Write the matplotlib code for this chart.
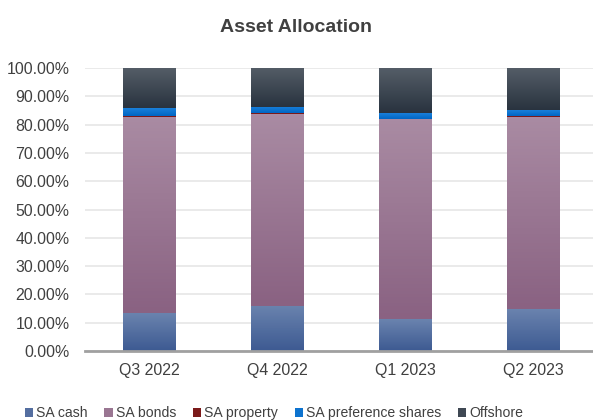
import numpy as np
import matplotlib
matplotlib.use('Agg')
import matplotlib.pyplot as plt
from matplotlib.colors import LinearSegmentedColormap
from matplotlib.ticker import FuncFormatter

plt.rcParams['font.family'] = ['Liberation Sans', 'DejaVu Sans']

quarters = ['Q3 2022', 'Q4 2022', 'Q1 2023', 'Q2 2023']
sa_cash = [13.4, 16.0, 11.3, 14.8]
sa_bonds = [69.4, 67.8, 70.7, 68.0]
sa_property = [0.3, 0.2, 0.0, 0.3]
sa_pref = [2.8, 2.2, 2.1, 2.1]
offshore = [14.1, 13.8, 15.9, 14.8]

series = [
    ('SA cash', sa_cash, '#6a83ae', '#3d5a92'),
    ('SA bonds', sa_bonds, '#a98ba3', '#8a6282'),
    ('SA property', sa_property, '#7b1a1a', '#7b1a1a'),
    ('SA preference shares', sa_pref, '#1a80da', '#0066c4'),
    ('Offshore', offshore, '#545d67', '#29333f'),
]

fig = plt.figure(figsize=(5.93, 4.2), dpi=100)
ax = fig.add_axes([85 / 593, 69 / 420, 512 / 593, 283 / 420])

x = np.arange(len(quarters))
width = 0.41
bottom = np.zeros(len(quarters))

# bars with a vertical gradient drawn on top of each one
for name, vals, top_c, bot_c in series:
    mid = matplotlib.colors.to_hex(
        (np.array(matplotlib.colors.to_rgb(top_c)) + np.array(matplotlib.colors.to_rgb(bot_c))) / 2)
    bars = ax.bar(x, vals, width, bottom=bottom, color=mid, label=name, zorder=2)
    cmap = LinearSegmentedColormap.from_list(name, [bot_c, top_c])
    grad = np.linspace(0, 1, 64).reshape(-1, 1)
    for rect in bars:
        h = rect.get_height()
        if h <= 0:
            continue
        x0 = rect.get_x()
        y0 = rect.get_y()
        ax.imshow(grad, extent=[x0, x0 + rect.get_width(), y0, y0 + h],
                  origin='lower', aspect='auto', cmap=cmap, zorder=3)
    bottom += np.array(vals)

ax.set_xlim(-0.5, 3.5)
ax.set_ylim(0, 100)
ax.set_yticks(np.arange(0, 101, 10))
ax.yaxis.set_major_formatter(FuncFormatter(lambda v, p: f'{v:.2f}%'))
ax.set_xticks(x)
ax.set_xticklabels(quarters)
ax.tick_params(axis='both', length=0, labelsize=11.4, colors='#404040')
ax.tick_params(axis='y', pad=11)
ax.tick_params(axis='x', pad=9)
ax.grid(axis='y', color='#e6e6e6', linewidth=1.2, zorder=0)
ax.set_axisbelow(True)
for s in ['top', 'right', 'left']:
    ax.spines[s].set_visible(False)
ax.spines['bottom'].set_color('#a0a0a0')
ax.spines['bottom'].set_linewidth(2)
ax.spines['bottom'].set_zorder(4)

fig.text(0.5, 0.935, 'Asset Allocation', ha='center', va='center',
         fontsize=14, fontweight='bold', color='#404040')

fig.legend(loc='center', bbox_to_anchor=(0.462, 0.016), ncol=5, frameon=False,
           fontsize=10.1, handlelength=0.6, handleheight=0.6, handletextpad=0.2,
           columnspacing=1.2, labelcolor='#404040')

fig.savefig('out.png', dpi=100)
